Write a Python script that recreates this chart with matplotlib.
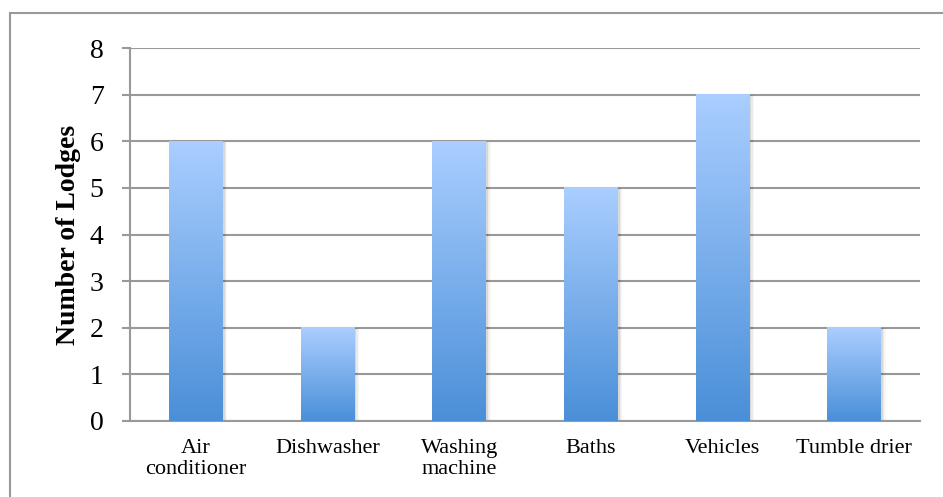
import numpy as np
import matplotlib
matplotlib.use("Agg")
import matplotlib.pyplot as plt
from matplotlib.patches import Rectangle
from matplotlib.colors import LinearSegmentedColormap

categories = ["Air\nconditioner", "Dishwasher", "Washing\nmachine", "Baths", "Vehicles", "Tumble drier"]
values = [6, 2, 6, 5, 7, 2]
yticks = [0, 1, 2, 3, 4, 5, 6, 7, 8]
ylabel = "Number of Lodges"

plt.rcParams['font.family'] = ['Liberation Serif', 'DejaVu Serif']

fig = plt.figure(figsize=(9.43, 4.97), dpi=100)
ax = fig.add_axes([130/943, 76/497, 790/943, 373/497])

cmap = LinearSegmentedColormap.from_list("bar", ["#4A8FD8", "#AACEFF"])
grad = np.linspace(0, 1, 256).reshape(-1, 1)
w = 0.41
x = np.arange(len(categories))
for xi, v in zip(x, values):
    # soft shadow on the right side
    for k, a in enumerate([0.07, 0.05, 0.03]):
        d = 0.01 * (k + 1)
        ax.add_patch(Rectangle((xi - w/2 + 0.005, 0), w + d, v - 0.01, facecolor="black",
                               alpha=a, edgecolor="none", zorder=2))
    ax.imshow(grad, extent=[xi - w/2, xi + w/2, 0, v], origin="lower", cmap=cmap,
              aspect="auto", zorder=3, interpolation="bilinear")

ax.set_xlim(-0.5, len(categories) - 0.5)
ax.set_ylim(0, 8)
ax.set_yticks(yticks)
ax.set_xticks(x)
ax.set_xticklabels(categories, fontsize=16, linespacing=1.15)
ax.tick_params(axis='x', length=0, pad=13)
ax.tick_params(axis='y', length=6, width=1.5, color="#999999", pad=13, labelsize=20)
ax.yaxis.grid(True, color="#999999", linewidth=1.5, zorder=0)
ax.set_axisbelow(True)
for s in ["top", "right"]:
    ax.spines[s].set_visible(False)
for s in ["left", "bottom"]:
    ax.spines[s].set_color("#999999")
    ax.spines[s].set_linewidth(1.5)
ax.set_ylabel(ylabel, fontsize=20, fontweight="bold", labelpad=6)

fig.patches.append(Rectangle((10/943, -0.05), 1.0, (497-13)/497 + 0.05, transform=fig.transFigure,
                             fill=False, edgecolor="#999999", linewidth=1.5))

fig.savefig("out.png", dpi=100)
